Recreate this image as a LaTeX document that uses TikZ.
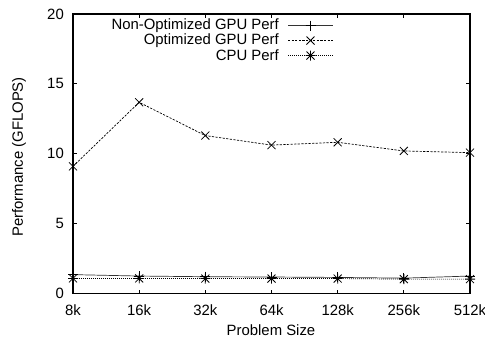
\documentclass[tikz,border=0pt]{standalone}
\usepackage{fontspec}
\setmainfont{Liberation Sans}
\usetikzlibrary{calc}
\begin{document}
\begin{tikzpicture}[x=1pt,y=-1pt,
  lbl/.style={inner sep=0pt,font=\fontsize{14.9}{17}\selectfont},
  frame/.style={line width=1.1pt},
  tickmark/.style={line width=0.8pt},
  nonopt/.style={line width=0.7pt,black!80},
  optim/.style={line width=0.7pt,dash pattern=on 2.2pt off 1.4pt},
  cpuline/.style={line width=0.7pt,dash pattern=on 0.9pt off 1.1pt},
  mk/.style={line width=0.8pt},
  plusmark/.pic={\draw[mk] (-5,0) -- (5,0) (0,-5) -- (0,5);},
  crossmark/.pic={\draw[mk] (-4,-4) -- (4,4) (-4,4) -- (4,-4);},
  starmark/.pic={\draw[mk] (-4,-4) -- (4,4) (-4,4) -- (4,-4) (-5,0) -- (5,0) (0,-5) -- (0,5);}
]
\useasboundingbox (0,0) rectangle (485,341);

% axis frame corners
\coordinate (ll) at (73,293.5);
\coordinate (ur) at (470,14);

% plotting area: x in sample index, y in GFLOPS (upwards)
\begin{scope}[shift={(73,293.5)},x=66.17pt,y=13.975pt]
  % ticks on all four sides
  \foreach \i/\t in {0/8k,1/16k,2/32k,3/64k,4/128k,5/256k,6/512k}{
    \draw[tickmark] (\i,0) -- ++(0,4pt);
    \draw[tickmark] (\i,20) -- ++(0,-4pt);
    \node[lbl] (xl\i) at ([yshift=-17pt]\i,0) {\t};
  }
  \foreach \v in {0,5,10,15,20}{
    \draw[tickmark] (0,\v) -- ++(4pt,0);
    \draw[tickmark] (6,\v) -- ++(-4pt,0);
    \node[lbl,anchor=east] (yl\v) at ([xshift=-9pt]0,\v) {\v};
  }

  % data points
  \foreach \i/\v in {0/1.35,1/1.25,2/1.2,3/1.18,4/1.15,5/1.1,6/1.25}
    \coordinate (n\i) at (\i,\v);
  \foreach \i/\v in {0/9.1,1/13.68,2/11.3,3/10.62,4/10.82,5/10.2,6/10.08}
    \coordinate (o\i) at (\i,\v);
  \foreach \i/\v in {0/1.08,1/1.08,2/1.07,3/1.07,4/1.07,5/1.03,6/1.03}
    \coordinate (c\i) at (\i,\v);
\end{scope}

% curves
\draw[nonopt] (n0) -- (n1) -- (n2) -- (n3) -- (n4) -- (n5) -- (n6);
\draw[optim] (o0) -- (o1) -- (o2) -- (o3) -- (o4) -- (o5) -- (o6);
\draw[cpuline] (c0) -- (c1) -- (c2) -- (c3) -- (c4) -- (c5) -- (c6);
\foreach \i in {0,...,6}{
  \pic at (n\i) {plusmark};
  \pic at (o\i) {crossmark};
  \pic at (c\i) {starmark};
}

% frame
\draw[frame] (ll) rectangle (ur);

% legend
\node[lbl,anchor=east] (k1) at (279,25.5) {Non-Optimized GPU Perf};
\node[lbl,anchor=east] (k2) at (279,40.5) {Optimized GPU Perf};
\node[lbl,anchor=east] (k3) at (279,55.5) {CPU Perf};
\coordinate (s1a) at (288,25.5); \coordinate (s1b) at (333,25.5);
\coordinate (s2a) at (288,40.5); \coordinate (s2b) at (333,40.5);
\coordinate (s3a) at (288,55.5); \coordinate (s3b) at (333,55.5);
\draw[nonopt] (s1a) -- (s1b);
\draw[optim] (s2a) -- (s2b);
\draw[cpuline] (s3a) -- (s3b);
\pic at ($(s1a)!0.5!(s1b)$) {plusmark};
\pic at ($(s2a)!0.5!(s2b)$) {crossmark};
\pic at ($(s3a)!0.5!(s3b)$) {starmark};

% axis titles
\node[lbl] (xt) at (271,330) {Problem Size};
\node[lbl,rotate=90] (yt) at (19,157) {Performance (GFLOPS)};
\end{tikzpicture}
\end{document}
